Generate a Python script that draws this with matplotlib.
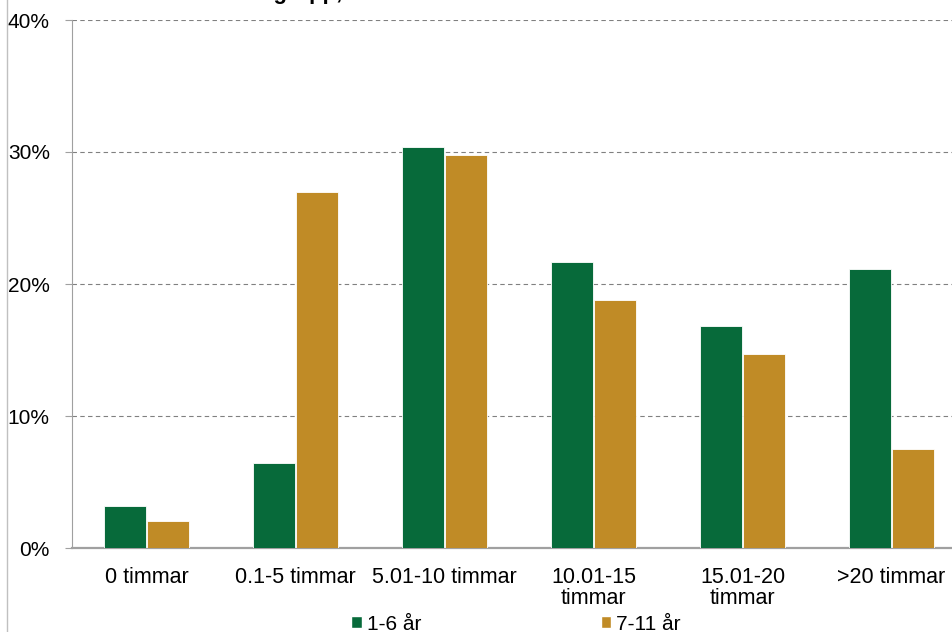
import numpy as np
import matplotlib.pyplot as plt
from matplotlib.lines import Line2D
from matplotlib.patches import Patch

plt.rcParams['font.family'] = ['Liberation Sans', 'DejaVu Sans']

categories = ["0 timmar", "0.1-5 timmar", "5.01-10 timmar",
              "10.01-15\ntimmar", "15.01-20\ntimmar", ">20 timmar"]
young = [3.2, 6.45, 30.4, 21.7, 16.8, 21.15]    # 1-6 år
older = [2.05, 27.0, 29.8, 18.8, 14.7, 7.5]     # 7-11 år
series_names = ["1-6 år", "7-11 år"]
yticks = [0, 10, 20, 30, 40]

green = "#076a3a"
gold = "#c08b26"

fig = plt.figure(figsize=(9.53, 6.32), dpi=100)
ax = fig.add_axes([72 / 953, 84 / 632, 894 / 953, 528 / 632])

x = np.arange(len(categories))
w = 0.28
ax.bar(x - 0.143, young, w, color=green, edgecolor="white", linewidth=0.6, zorder=3)
ax.bar(x + 0.143, older, w, color=gold, edgecolor="white", linewidth=0.6, zorder=3)

ax.set_xlim(-0.5, len(categories) - 0.5)
ax.set_ylim(0, 40)
ax.set_yticks(yticks)
ax.set_yticklabels(["{}%".format(t) for t in yticks], fontsize=15)
ax.set_xticks(x)
ax.set_xticklabels(categories, fontsize=15.5, linespacing=1.0)
ax.tick_params(axis='x', length=0, pad=14)
ax.tick_params(axis='y', length=5, color="#a0a0a0", pad=11)

ax.grid(axis='y', linestyle=(0, (4, 3)), color="#808080", linewidth=0.8, zorder=0)
for s in ["top", "right"]:
    ax.spines[s].set_visible(False)
ax.spines["left"].set_color("#a0a0a0")
ax.spines["bottom"].set_color("#a0a0a0")
ax.spines["bottom"].set_linewidth(1.6)

# thin frame line at the left edge of the picture
fig.add_artist(Line2D([7.5 / 953, 7.5 / 953], [0, 1], color="#c0c0c0", linewidth=1))

# title, cut off at the top of the picture as in the original
fig.text(343 / 953, 1.0 + 1 / 632, "åldersgrupp,", fontsize=16, fontweight="bold",
         ha="right", va="baseline")

handles = [Patch(facecolor=green, edgecolor="white"), Patch(facecolor=gold, edgecolor="white")]
fig.legend(handles, series_names, ncol=2, loc="center", bbox_to_anchor=(516 / 953, 8 / 632),
           frameon=False, fontsize=15, handlelength=0.5, handleheight=0.5,
           handletextpad=0.25, columnspacing=8.6, borderpad=0)

fig.savefig("out.png", dpi=100)
